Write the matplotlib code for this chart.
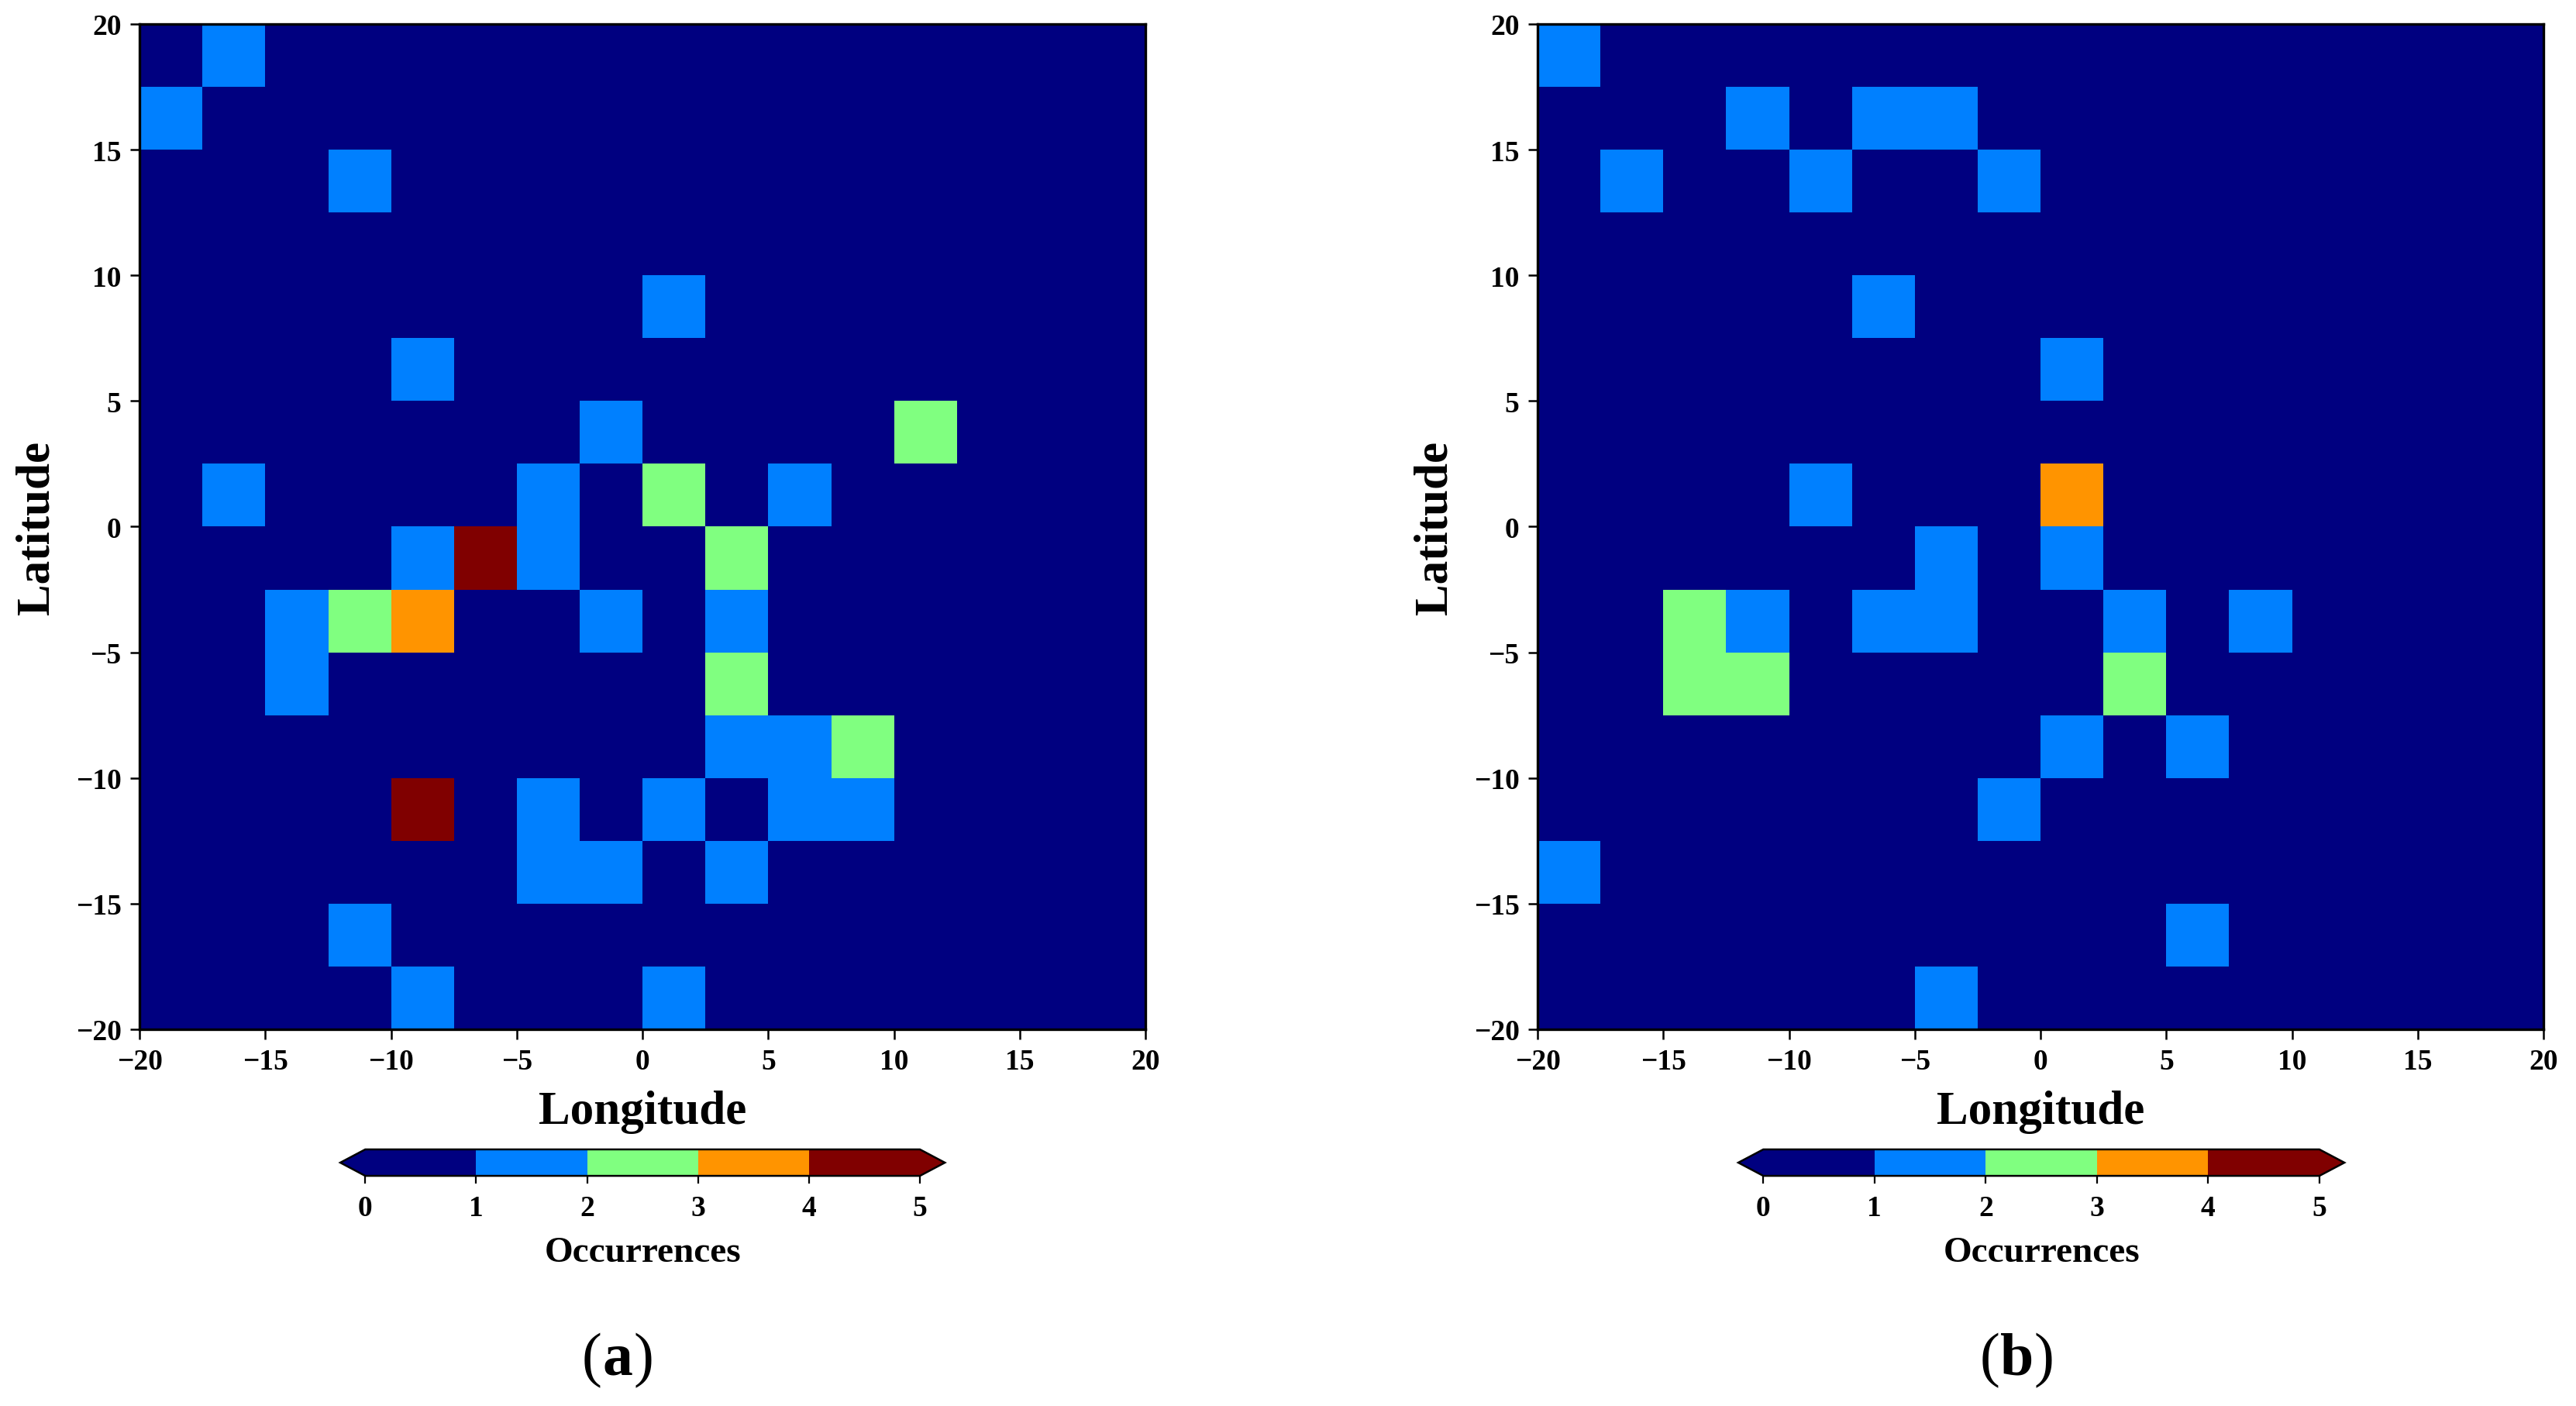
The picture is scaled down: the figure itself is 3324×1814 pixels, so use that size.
import matplotlib

matplotlib.use("Agg")
import matplotlib.pyplot as plt
import numpy as np
from matplotlib.colors import BoundaryNorm, ListedColormap

plt.rcParams["font.family"] = ["Liberation Serif", "DejaVu Serif"]
plt.rcParams["font.weight"] = "bold"

# 2.5 degree grid, rows listed from the top (17.5..20) down to the bottom (-20..-17.5)
lon_edges = np.arange(-20, 20.1, 2.5)
lat_edges = np.arange(-20, 20.1, 2.5)
ticks = [-20, -15, -10, -5, 0, 5, 10, 15, 20]
levels = [0, 1, 2, 3, 4, 5]
level_colors = ["#000080", "#0080ff", "#80ff80", "#ff9400", "#800000"]

counts_a = [
    [0, 1, 0, 0, 0, 0, 0, 0, 0, 0, 0, 0, 0, 0, 0, 0],
    [1, 0, 0, 0, 0, 0, 0, 0, 0, 0, 0, 0, 0, 0, 0, 0],
    [0, 0, 0, 1, 0, 0, 0, 0, 0, 0, 0, 0, 0, 0, 0, 0],
    [0, 0, 0, 0, 0, 0, 0, 0, 0, 0, 0, 0, 0, 0, 0, 0],
    [0, 0, 0, 0, 0, 0, 0, 0, 1, 0, 0, 0, 0, 0, 0, 0],
    [0, 0, 0, 0, 1, 0, 0, 0, 0, 0, 0, 0, 0, 0, 0, 0],
    [0, 0, 0, 0, 0, 0, 0, 1, 0, 0, 0, 0, 2, 0, 0, 0],
    [0, 1, 0, 0, 0, 0, 1, 0, 2, 0, 1, 0, 0, 0, 0, 0],
    [0, 0, 0, 0, 1, 4, 1, 0, 0, 2, 0, 0, 0, 0, 0, 0],
    [0, 0, 1, 2, 3, 0, 0, 1, 0, 1, 0, 0, 0, 0, 0, 0],
    [0, 0, 1, 0, 0, 0, 0, 0, 0, 2, 0, 0, 0, 0, 0, 0],
    [0, 0, 0, 0, 0, 0, 0, 0, 0, 1, 1, 2, 0, 0, 0, 0],
    [0, 0, 0, 0, 4, 0, 1, 0, 1, 0, 1, 1, 0, 0, 0, 0],
    [0, 0, 0, 0, 0, 0, 1, 1, 0, 1, 0, 0, 0, 0, 0, 0],
    [0, 0, 0, 1, 0, 0, 0, 0, 0, 0, 0, 0, 0, 0, 0, 0],
    [0, 0, 0, 0, 1, 0, 0, 0, 1, 0, 0, 0, 0, 0, 0, 0],
]

counts_b = [
    [1, 0, 0, 0, 0, 0, 0, 0, 0, 0, 0, 0, 0, 0, 0, 0],
    [0, 0, 0, 1, 0, 1, 1, 0, 0, 0, 0, 0, 0, 0, 0, 0],
    [0, 1, 0, 0, 1, 0, 0, 1, 0, 0, 0, 0, 0, 0, 0, 0],
    [0, 0, 0, 0, 0, 0, 0, 0, 0, 0, 0, 0, 0, 0, 0, 0],
    [0, 0, 0, 0, 0, 1, 0, 0, 0, 0, 0, 0, 0, 0, 0, 0],
    [0, 0, 0, 0, 0, 0, 0, 0, 1, 0, 0, 0, 0, 0, 0, 0],
    [0, 0, 0, 0, 0, 0, 0, 0, 0, 0, 0, 0, 0, 0, 0, 0],
    [0, 0, 0, 0, 1, 0, 0, 0, 3, 0, 0, 0, 0, 0, 0, 0],
    [0, 0, 0, 0, 0, 0, 1, 0, 1, 0, 0, 0, 0, 0, 0, 0],
    [0, 0, 2, 1, 0, 1, 1, 0, 0, 1, 0, 1, 0, 0, 0, 0],
    [0, 0, 2, 2, 0, 0, 0, 0, 0, 2, 0, 0, 0, 0, 0, 0],
    [0, 0, 0, 0, 0, 0, 0, 0, 1, 0, 1, 0, 0, 0, 0, 0],
    [0, 0, 0, 0, 0, 0, 0, 1, 0, 0, 0, 0, 0, 0, 0, 0],
    [1, 0, 0, 0, 0, 0, 0, 0, 0, 0, 0, 0, 0, 0, 0, 0],
    [0, 0, 0, 0, 0, 0, 0, 0, 0, 0, 1, 0, 0, 0, 0, 0],
    [0, 0, 0, 0, 0, 0, 1, 0, 0, 0, 0, 0, 0, 0, 0, 0],
]

panel_letters = ["a", "b"]

cmap = ListedColormap(level_colors)
cmap.set_under(level_colors[0])
cmap.set_over(level_colors[-1])
norm = BoundaryNorm(levels, cmap.N)

fig = plt.figure(figsize=(16.62, 9.075), dpi=200)

ax_boxes = [[0.0542, 0.2678, 0.3905, 0.7146], [0.5969, 0.2678, 0.3905, 0.7146]]
cax_boxes = [[0.1321, 0.1636, 0.2347, 0.0188], [0.6748, 0.1636, 0.2353, 0.0188]]
label_x = [0.2398, 0.7830]

for counts, box, cbox, letter, lx in zip(
    [counts_a, counts_b], ax_boxes, cax_boxes, panel_letters, label_x
):
    ax = fig.add_axes(box)
    grid = np.flipud(np.array(counts, dtype=float))
    mesh = ax.pcolormesh(lon_edges, lat_edges, grid, cmap=cmap, norm=norm)
    ax.set_xlim(-20, 20)
    ax.set_ylim(-20, 20)
    ax.set_xticks(ticks)
    ax.set_yticks(ticks)
    ax.tick_params(direction="out", length=4.5, width=0.9, labelsize=13.5, pad=4)
    for sp in ax.spines.values():
        sp.set_linewidth(1.2)
    ax.set_xlabel("Longitude", fontsize=22, fontweight="bold", labelpad=7)
    ax.set_ylabel("Latitude", fontsize=22, fontweight="bold", labelpad=8)

    cax = fig.add_axes(cbox)
    cb = fig.colorbar(
        mesh, cax=cax, orientation="horizontal", extend="both",
        extendfrac=0.045, ticks=levels,
    )
    cb.outline.set_linewidth(0.9)
    cb.ax.tick_params(direction="out", length=3.5, width=0.8, labelsize=13.5, pad=5)
    cb.set_label("Occurrences", fontsize=17, fontweight="bold", labelpad=7)

    # panel tag: regular parentheses around a bold letter
    fig.text(lx, 0.033, letter, fontsize=28, fontweight="bold", ha="center", va="center")
    half = 7.5 if letter == "a" else 8.0
    fig.text(lx, 0.033, "(", fontsize=28, fontweight="normal", ha="right", va="center",
             transform=fig.transFigure + matplotlib.transforms.ScaledTranslation(
                 -half / 72, 0, fig.dpi_scale_trans))
    fig.text(lx, 0.033, ")", fontsize=28, fontweight="normal", ha="left", va="center",
             transform=fig.transFigure + matplotlib.transforms.ScaledTranslation(
                 half / 72, 0, fig.dpi_scale_trans))

fig.savefig("out.png", dpi=200)
plt.close(fig)
